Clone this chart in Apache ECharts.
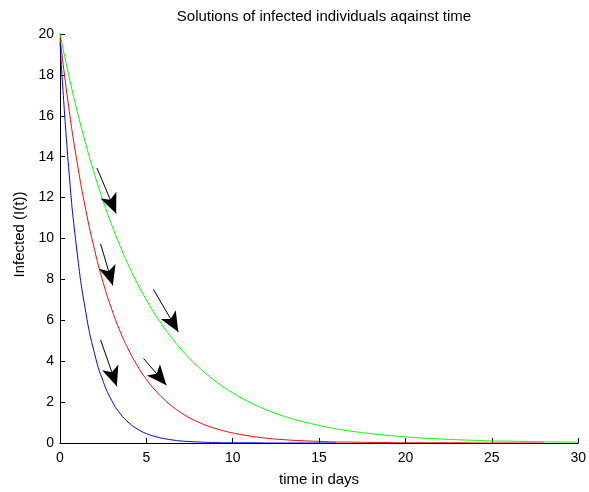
<!DOCTYPE html>
<html>
<head>
<meta charset="utf-8">
<script src="https://cdn.jsdelivr.net/npm/echarts@6/dist/echarts.min.js"></script>
<style>
html,body{margin:0;padding:0;background:#fff;}
#chart{width:589px;height:492px;}
</style>
</head>
<body>
<div id="chart"></div>
<script>
// Blue curve (fastest decay), ends at t = 16
const blueT = [0,0.5,1,1.5,2,2.5,3,3.5,4,4.5,5,5.5,6,6.5,7,7.5,8,9,10,11,12,13,14,15,16];
const blueI = [19.6,13.47,9.26,6.36,4.37,3.01,2.07,1.42,0.98,0.67,0.46,0.32,0.22,0.15,0.10,0.07,0.05,0.02,0.01,0.01,0,0,0,0,0];
// Red curve, ends at t = 28
const redT = [0,0.5,1,1.5,2,2.5,3,3.5,4,4.5,5,5.5,6,6.5,7,7.5,8,8.5,9,9.5,10,11,12,13,14,15,16,17,18,19,20,21,22,23,24,25,26,27,28];
const redI = [19.8,16.46,13.68,11.37,9.45,7.85,6.53,5.42,4.51,3.75,3.11,2.59,2.15,1.79,1.49,1.23,1.03,0.85,0.71,0.59,0.49,0.34,0.23,0.16,0.11,0.08,0.05,0.04,0.03,0.02,0.01,0.01,0.01,0.01,0,0,0,0,0];
// Green curve (slowest decay), ends at t = 30
const greenT = [0,0.5,1,1.5,2,2.5,3,3.5,4,4.5,5,5.5,6,6.5,7,7.5,8,8.5,9,9.5,10,11,12,13,14,15,16,17,18,19,20,21,22,23,24,25,26,27,28,29,30];
const greenI = [20,18.01,16.21,14.60,13.14,11.83,10.65,9.59,8.63,7.77,7.00,6.30,5.67,5.11,4.60,4.14,3.73,3.36,3.02,2.72,2.45,1.98,1.61,1.30,1.06,0.86,0.69,0.56,0.46,0.37,0.30,0.24,0.20,0.16,0.13,0.10,0.09,0.07,0.06,0.05,0.04];
// Annotation arrows: start and end points in data units
const arrowStart = [[2.14,13.45],[2.35,9.74],[5.41,7.51],[2.35,5.04],[4.84,4.13]];
const arrowEnd   = [[3.25,11.22],[3.06,7.70],[6.85,5.43],[3.29,2.77],[6.16,2.83]];

const xTicks = {min:0, max:30, interval:5};
const yTicks = {min:0, max:20, interval:2};

const titleText = 'Solutions of infected individuals aqainst time';
const xName = 'time in days';
const yName = 'Infected (I(t))';

function pairs(t, v){ return t.map((x,i)=>[x, v[i]]); }

const chart = echarts.init(document.getElementById('chart'));
const font = 'Liberation Sans, Arial, sans-serif';
chart.setOption({
  animation:false,
  backgroundColor:'#fff',
  title:{
    text:titleText, left:319, top:4, textAlign:'center',
    textStyle:{fontFamily:font, fontSize:15, fontWeight:'normal', color:'#000'}
  },
  grid:{left:60, right:6, top:34, bottom:48, containLabel:false},
  xAxis:{
    type:'value', min:xTicks.min, max:xTicks.max, interval:xTicks.interval,
    name:xName, nameLocation:'middle', nameGap:29,
    nameTextStyle:{fontFamily:font, fontSize:15, color:'#000'},
    axisLine:{show:true, lineStyle:{color:'#000', width:1}},
    axisTick:{show:true, inside:true, length:5, lineStyle:{color:'#000'}},
    axisLabel:{fontFamily:font, fontSize:14, color:'#000', margin:8},
    splitLine:{show:false}
  },
  yAxis:{
    type:'value', min:yTicks.min, max:yTicks.max, interval:yTicks.interval,
    name:yName, nameLocation:'middle', nameGap:32, nameRotate:90,
    nameTextStyle:{fontFamily:font, fontSize:15, color:'#000', padding:[0,0,0,8]},
    axisLine:{show:true, lineStyle:{color:'#000', width:1}},
    axisTick:{show:true, inside:true, length:5, lineStyle:{color:'#000'}},
    axisLabel:{fontFamily:font, fontSize:14, color:'#000', margin:6},
    splitLine:{show:false}
  },
  series:[
    {type:'line', data:pairs(greenT, greenI), showSymbol:false, smooth:true, lineStyle:{color:'#00ff00', width:1}, z:2},
    {type:'line', data:pairs(redT, redI), showSymbol:false, smooth:true, lineStyle:{color:'#ff0000', width:1}, z:3},
    {type:'line', data:pairs(blueT, blueI), showSymbol:false, smooth:true, lineStyle:{color:'#0000ff', width:1}, z:4},
    {type:'line', data:[], z:5,
      markLine:{
        silent:true, animation:false,
        symbol:['none','arrow'], symbolSize:[13,20],
        label:{show:false},
        lineStyle:{color:'#000', width:1, type:'solid'},
        data: arrowStart.map((s,i)=>[{coord:s},{coord:arrowEnd[i]}])
      }
    }
  ]
});
</script>
</body>
</html>
